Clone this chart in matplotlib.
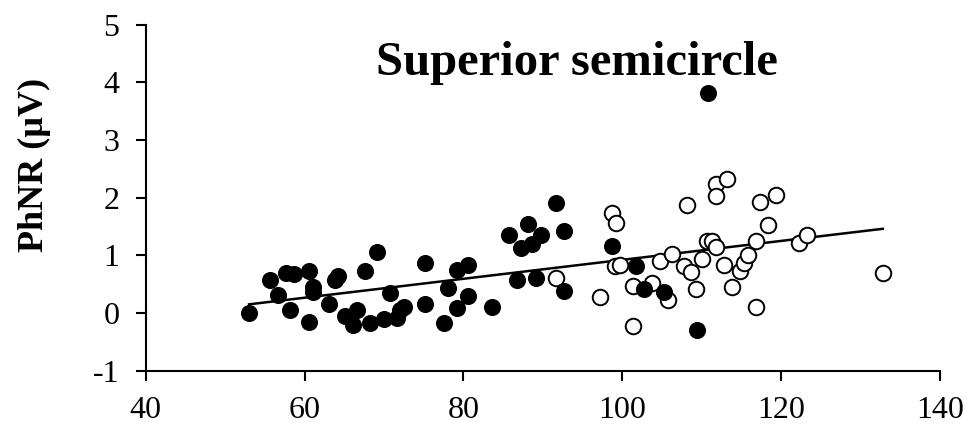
import numpy as np
import matplotlib
matplotlib.use("Agg")
import matplotlib.pyplot as plt

plt.rcParams['font.family'] = ['Liberation Serif', 'DejaVu Serif']
plt.rcParams['axes.unicode_minus'] = False

# filled circles
filled_x = [53.0, 55.6, 56.6, 57.6, 58.1, 58.6, 60.5, 60.5, 61.1, 61.1, 63.1, 63.8, 64.2,
            65.1, 66.1, 66.6, 67.6, 68.2, 69.1, 70.0, 70.7, 71.6, 72.0, 72.5, 75.1, 75.1,
            77.6, 78.1, 79.2, 79.2, 80.6, 80.6, 83.6, 85.7, 86.7, 87.2, 88.1, 88.6, 89.1,
            89.8, 91.7, 92.6, 92.6, 98.7, 101.7, 102.7, 105.2, 109.4, 110.8]
filled_y = [0.00, 0.58, 0.32, 0.70, 0.06, 0.68, 0.72, -0.15, 0.45, 0.36, 0.16, 0.58, 0.64,
            -0.06, -0.21, 0.06, 0.72, -0.18, 1.05, -0.10, 0.35, -0.08, 0.05, 0.10, 0.86, 0.16,
            -0.18, 0.44, 0.75, 0.09, 0.83, 0.29, 0.10, 1.36, 0.57, 1.13, 1.55, 1.20, 0.61,
            1.35, 1.90, 1.42, 0.38, 1.17, 0.81, 0.41, 0.36, -0.30, 3.82]

# open circles
open_x = [91.7, 97.2, 98.7, 99.2, 99.1, 99.7, 101.3, 101.3, 103.8, 104.7, 106.2, 105.7,
          108.1, 107.8, 108.6, 109.3, 110.1, 110.7, 111.3, 111.8, 111.8, 111.8, 113.2, 112.8,
          113.8, 114.8, 115.3, 115.8, 116.8, 116.8, 117.3, 118.3, 119.3, 122.3, 123.3, 132.8]
open_y = [0.60, 0.28, 1.73, 1.56, 0.81, 0.84, -0.23, 0.46, 0.52, 0.90, 1.02, 0.22,
          1.87, 0.81, 0.71, 0.42, 0.93, 1.25, 1.25, 1.14, 2.24, 2.03, 2.33, 0.84,
          0.45, 0.72, 0.87, 1.01, 1.25, 0.11, 1.93, 1.52, 2.05, 1.21, 1.36, 0.70]

# regression line end points
fit_x = [53.0, 132.8]
fit_y = [0.15, 1.46]

x_ticks = [40, 60, 80, 100, 120, 140]
y_ticks = [-1, 0, 1, 2, 3, 4, 5]

fig = plt.figure(figsize=(9.72, 4.29), dpi=100)
ax = fig.add_axes([0.150, 0.136, 0.817, 0.8065])

ax.plot(fit_x, fit_y, color='black', lw=1.8, zorder=1)
ax.scatter(filled_x, filled_y, s=125, facecolor='black', edgecolor='black', lw=1.1, zorder=3)
ax.scatter(open_x, open_y, s=125, facecolor='white', edgecolor='black', lw=1.4, zorder=2)

ax.set_xlim(40, 140)
ax.set_ylim(-1, 5)
ax.set_xticks(x_ticks)
ax.set_yticks(y_ticks)
ax.spines['top'].set_visible(False)
ax.spines['right'].set_visible(False)
for s in ('left', 'bottom'):
    ax.spines[s].set_linewidth(1.5)
ax.tick_params(direction='out', length=7, width=1.5, labelsize=23)
ax.tick_params(axis='y', pad=12)
ax.tick_params(axis='x', pad=11)

ax.set_ylabel('PhNR (µV)', fontsize=26, fontweight='bold')
ax.yaxis.set_label_coords(-0.119, 0.595)
ax.text(0.543, 0.855, 'Superior semicircle', transform=ax.transAxes, ha='center',
        va='baseline', fontsize=35, fontweight='bold')

fig.savefig('out.png', dpi=100)
